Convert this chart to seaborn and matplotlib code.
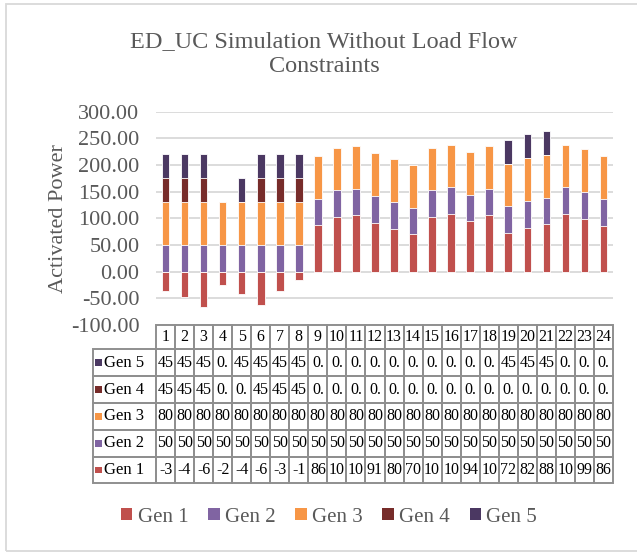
import numpy as np
import pandas as pd
import matplotlib
matplotlib.use("Agg")
import matplotlib.pyplot as plt
import matplotlib.transforms as mtransforms
from matplotlib.patches import Rectangle, Patch
from matplotlib.ticker import FuncFormatter
import seaborn as sns

# ---------------- data ----------------
hours = ["1", "2", "3", "4", "5", "6", "7", "8", "9", "10", "11", "12",
         "13", "14", "15", "16", "17", "18", "19", "20", "21", "22", "23", "24"]
gen1 = [-36.2, -47.1, -66.8, -24.3, -42.5, -61.9, -36.4, -15.2,
        86.9, 102.5, 105.6, 91.9, 80.9, 70.0, 102.5, 108.1,
        94.4, 105.6, 72.8, 82.8, 88.7, 108.1, 99.4, 86.4]
gen2 = [50, 50, 50, 50, 50, 50, 50, 50, 50, 50, 50, 50,
        50, 50, 50, 50, 50, 50, 50, 50, 50, 50, 50, 50]
gen3 = [80, 80, 80, 80, 80, 80, 80, 80, 80, 80, 80, 80,
        80, 80, 80, 80, 80, 80, 80, 80, 80, 80, 80, 80]
gen4 = [45, 45, 45, 0, 0, 45, 45, 45, 0, 0, 0, 0,
        0, 0, 0, 0, 0, 0, 0, 0, 0, 0, 0, 0]
gen5 = [45, 45, 45, 0, 45, 45, 45, 45, 0, 0, 0, 0,
        0, 0, 0, 0, 0, 0, 45, 45, 45, 0, 0, 0]
series_names = ["Gen 1", "Gen 2", "Gen 3", "Gen 4", "Gen 5"]
colors = ["#C0504D", "#8064A2", "#F79646", "#772C2A", "#4B3862"]
title_text = "ED_UC Simulation Without Load Flow\nConstraints"
ylabel_text = "Activated Power"
yticks = [-100, -50, 0, 50, 100, 150, 200, 250, 300]

# ---------------- style ----------------
sns.set_style("white")
plt.rcParams["font.family"] = ["Liberation Serif", "DejaVu Serif"]
TXT = "#595959"

W, H = 637, 552
fig = plt.figure(figsize=(W / 100, H / 100), dpi=100)
fig.patch.set_facecolor("white")

def fx(px):
    return px / W

def fy(py):
    return 1 - py / H

ax_l, ax_r, ax_t, ax_b = 156, 613, 111.7, 325
ax = fig.add_axes([fx(ax_l), fy(ax_b), fx(ax_r) - fx(ax_l), fy(ax_t) - fy(ax_b)])

series = [gen1, gen2, gen3, gen4, gen5]
vals = np.array(series, dtype=float)
pos = vals.copy()
pos[0] = np.clip(vals[0], 0, None)
cum = np.cumsum(pos, axis=0)

# draw stacked (positive part) from top layer down
for i in range(4, -1, -1):
    df = pd.DataFrame({"hour": hours, "value": cum[i]})
    sns.barplot(data=df, x="hour", y="value", order=hours, color=colors[i],
                width=0.4, saturation=1, edgecolor="white", linewidth=0.6,
                ax=ax, zorder=3)

# negative part of Gen 1
neg_df = pd.DataFrame({"hour": hours, "value": vals[0]})
neg_df = neg_df[neg_df["value"] < 0]
sns.barplot(data=neg_df, x="hour", y="value", order=hours, color=colors[0],
            width=0.4, saturation=1, edgecolor="white", linewidth=0.6,
            ax=ax, zorder=3)

ax.set_xlim(-0.5, len(hours) - 0.5)
ax.set_ylim(-100, 300)
ax.set_yticks(yticks)
ax.yaxis.set_major_formatter(FuncFormatter(lambda v, p: f"{v:.2f}"))
ax.tick_params(axis="y", length=0, pad=12, labelsize=16, labelcolor=TXT)
ax.tick_params(axis="x", length=0, labelbottom=False)
ax.set_xlabel("")
ax.set_ylabel(ylabel_text, fontsize=16, color=TXT)
ax.yaxis.set_label_coords(-0.192, 0.5)
ax.grid(axis="y", color="#D9D9D9", linewidth=1.3)
ax.grid(axis="x", visible=False)
ax.set_axisbelow(True)
for s in ax.spines.values():
    s.set_visible(False)

# ---------------- data table ----------------
ax_h = ax_b - ax_t
def yax(py):
    return (ax_b - py) / ax_h

trans = mtransforms.blended_transform_factory(ax.transData, ax.transAxes)
edge = "#8F8F8F"
lw = 1.4
header_top, header_bot = 325, 349.3
row_h = 26.84
lab_left = (93 - ax_l) / (ax_r - ax_l)

# header row
for j, h in enumerate(hours):
    ax.add_patch(Rectangle((j - 0.5, yax(header_bot)), 1, yax(header_top) - yax(header_bot),
                           transform=trans, fill=False, edgecolor=edge, lw=lw, clip_on=False))
    ax.text(j, (yax(header_top) + yax(header_bot)) / 2, h, transform=trans,
            ha="center", va="center", fontsize=11.5, color="black", clip_on=False)

# series rows (Gen 5 at top)
for r, i in enumerate(range(4, -1, -1)):
    top = header_bot + r * row_h
    bot = top + row_h
    yc = (yax(top) + yax(bot)) / 2
    # label cell
    ax.add_patch(Rectangle((lab_left, yax(bot)), -lab_left, yax(top) - yax(bot),
                           transform=ax.transAxes, fill=False, edgecolor=edge, lw=lw,
                           clip_on=False))
    sq = 6.8
    ax.add_patch(Rectangle(((95 - ax_l) / (ax_r - ax_l), yc - (sq / 2) / ax_h),
                           sq / (ax_r - ax_l), sq / ax_h, transform=ax.transAxes,
                           facecolor=colors[i], edgecolor="none", clip_on=False))
    ax.text((103.5 - ax_l) / (ax_r - ax_l), yc, series_names[i], transform=ax.transAxes,
            ha="left", va="center", fontsize=12, color="black", clip_on=False)
    for j in range(len(hours)):
        ax.add_patch(Rectangle((j - 0.5, yax(bot)), 1, yax(top) - yax(bot),
                               transform=trans, fill=False, edgecolor=edge, lw=lw,
                               clip_on=False))
        label = f"{vals[i][j]:.2f}"[:2]
        ax.text(j, yc, label, transform=trans, ha="center", va="center",
                fontsize=11.5, color="black", clip_on=False)

# ---------------- title, legend, border ----------------
fig.text(fx(324), fy(54), title_text, ha="center", va="center", fontsize=17.5,
         color=TXT, linespacing=1.2)

handles = [Patch(facecolor=c, edgecolor="none") for c in colors]
fig.legend(handles, series_names, loc="center", bbox_to_anchor=(fx(329), fy(517)),
           ncol=5, frameon=False, fontsize=15, labelcolor=TXT,
           handlelength=0.55, handleheight=0.55, handletextpad=0.25,
           columnspacing=0.95)

fig.patches.append(Rectangle((fx(6), fy(551)), fx(700), fy(3.5) - fy(551),
                             transform=fig.transFigure, fill=False,
                             edgecolor="#D9D9D9", lw=1.3))

fig.savefig("out.png", dpi=100, facecolor="white")
